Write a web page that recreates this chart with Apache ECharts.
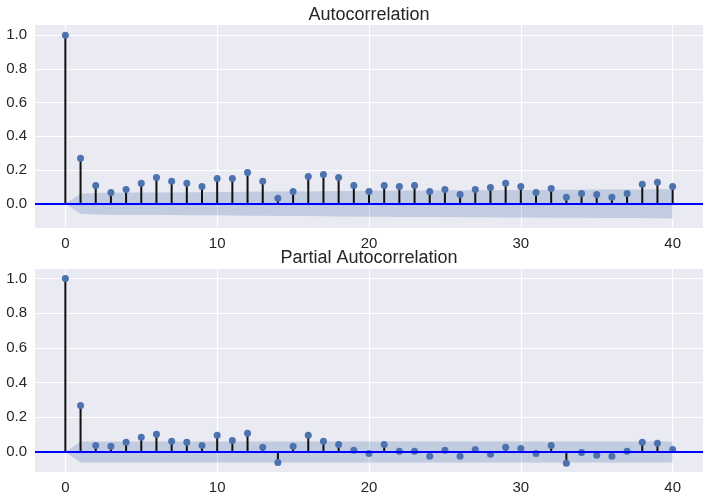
<!DOCTYPE html>
<html>
<head>
<meta charset="utf-8">
<script src="https://cdn.jsdelivr.net/npm/echarts@6/dist/echarts.min.js"></script>
<style>html,body{margin:0;padding:0;background:#fff}#c{width:711px;height:500px}</style>
</head>
<body>
<div id="c"></div>
<script>
const lags = [0,1,2,3,4,5,6,7,8,9,10,11,12,13,14,15,16,17,18,19,20,21,22,23,24,25,26,27,28,29,30,31,32,33,34,35,36,37,38,39,40];
const acfValues = [1.0,0.270,0.109,0.067,0.085,0.121,0.156,0.133,0.121,0.103,0.150,0.150,0.186,0.133,0.032,0.073,0.162,0.174,0.156,0.109,0.073,0.109,0.103,0.109,0.073,0.085,0.055,0.085,0.097,0.121,0.103,0.067,0.091,0.038,0.061,0.055,0.038,0.061,0.115,0.127,0.103];
const acfBand = [0,0.060,0.064,0.065,0.065,0.066,0.066,0.067,0.068,0.068,0.069,0.070,0.071,0.072,0.073,0.073,0.073,0.074,0.075,0.076,0.077,0.077,0.078,0.078,0.079,0.079,0.080,0.080,0.080,0.081,0.082,0.082,0.083,0.083,0.083,0.084,0.084,0.084,0.085,0.086,0.087];
const pacfValues = [1.0,0.268,0.038,0.033,0.056,0.085,0.102,0.062,0.056,0.038,0.096,0.067,0.108,0.027,-0.060,0.033,0.096,0.062,0.044,0.010,-0.008,0.044,0.004,0.004,-0.025,0.010,-0.025,0.015,-0.013,0.027,0.021,-0.008,0.038,-0.065,-0.002,-0.019,-0.025,0.004,0.056,0.050,0.015];
const pacfBand = [0,0.061,0.061,0.061,0.061,0.061,0.061,0.061,0.061,0.061,0.061,0.061,0.061,0.061,0.061,0.061,0.061,0.061,0.061,0.061,0.061,0.061,0.061,0.061,0.061,0.061,0.061,0.061,0.061,0.061,0.061,0.061,0.061,0.061,0.061,0.061,0.061,0.061,0.061,0.061,0.061];
const xTicks = [0,10,20,30,40];
const yTicks = [0,0.2,0.4,0.6,0.8,1.0];
const titles = ['Autocorrelation','Partial Autocorrelation'];

const FONT = '"Liberation Sans", Arial, sans-serif';
const TXT = '#262626';
const chart = echarts.init(document.getElementById('c'), null, {renderer:'canvas'});

const grids = [
  {left:35, top:25, width:668, height:203, backgroundColor:'#EAEAF2', show:true, borderWidth:0},
  {left:35, top:269, width:668, height:203, backgroundColor:'#EAEAF2', show:true, borderWidth:0}
];
const yRanges = [[-0.144,1.061],[-0.115,1.054]];

function xAxis(i){
  return {gridIndex:i, type:'value', min:-2, max:42,
    axisLine:{show:false}, axisTick:{show:false, customValues:xTicks},
    axisLabel:{customValues:xTicks, color:TXT, fontSize:15, fontFamily:FONT, margin:8},
    splitLine:{show:true, lineStyle:{color:'#fff', width:1.2}}};
}
function yAxis(i){
  return {gridIndex:i, type:'value', min:yRanges[i][0], max:yRanges[i][1],
    axisLine:{show:false}, axisTick:{show:false, customValues:yTicks},
    axisLabel:{customValues:yTicks, color:TXT, fontSize:15, fontFamily:FONT, margin:8, formatter:v=>v.toFixed(1)},
    splitLine:{show:true, lineStyle:{color:'#fff', width:1.2}}};
}
function seriesFor(i, vals, band){
  const bandColor = 'rgba(76,114,176,0.25)';
  return [
    {type:'line', xAxisIndex:i, yAxisIndex:i, data:lags.map((l,k)=>[l, band[k]]), symbol:'none', lineStyle:{width:0}, areaStyle:{color:bandColor, origin:'auto', opacity:1}, z:1, silent:true, animation:false},
    {type:'line', xAxisIndex:i, yAxisIndex:i, data:lags.map((l,k)=>[l, -band[k]]), symbol:'none', lineStyle:{width:0}, areaStyle:{color:bandColor, origin:'auto', opacity:1}, z:1, silent:true, animation:false},
    {type:'bar', xAxisIndex:i, yAxisIndex:i, data:lags.map((l,k)=>[l, vals[k]]), barWidth:2, itemStyle:{color:'#111'}, z:2, animation:false},
    {type:'line', xAxisIndex:i, yAxisIndex:i, data:[], z:3, animation:false,
      markLine:{silent:true, symbol:'none', label:{show:false}, lineStyle:{color:'#0000ff', width:2, type:'solid'}, data:[{yAxis:0}], animation:false}},
    {type:'scatter', xAxisIndex:i, yAxisIndex:i, data:lags.map((l,k)=>[l, vals[k]]), symbolSize:7, itemStyle:{color:'#4C72B0', opacity:1}, z:4, animation:false}
  ];
}

chart.setOption({
  animation:false,
  backgroundColor:'#fff',
  grid:grids,
  xAxis:[xAxis(0), xAxis(1)],
  yAxis:[yAxis(0), yAxis(1)],
  series:[...seriesFor(0, acfValues, acfBand), ...seriesFor(1, pacfValues, pacfBand)],
  graphic:[
    {type:'text', x:369, y:15, style:{text:titles[0], align:'center', verticalAlign:'middle', font:'18px "Liberation Sans", Arial, sans-serif', fill:TXT}},
    {type:'text', x:369, y:258, style:{text:titles[1], align:'center', verticalAlign:'middle', font:'18px "Liberation Sans", Arial, sans-serif', fill:TXT}}
  ]
});
</script>
</body>
</html>
